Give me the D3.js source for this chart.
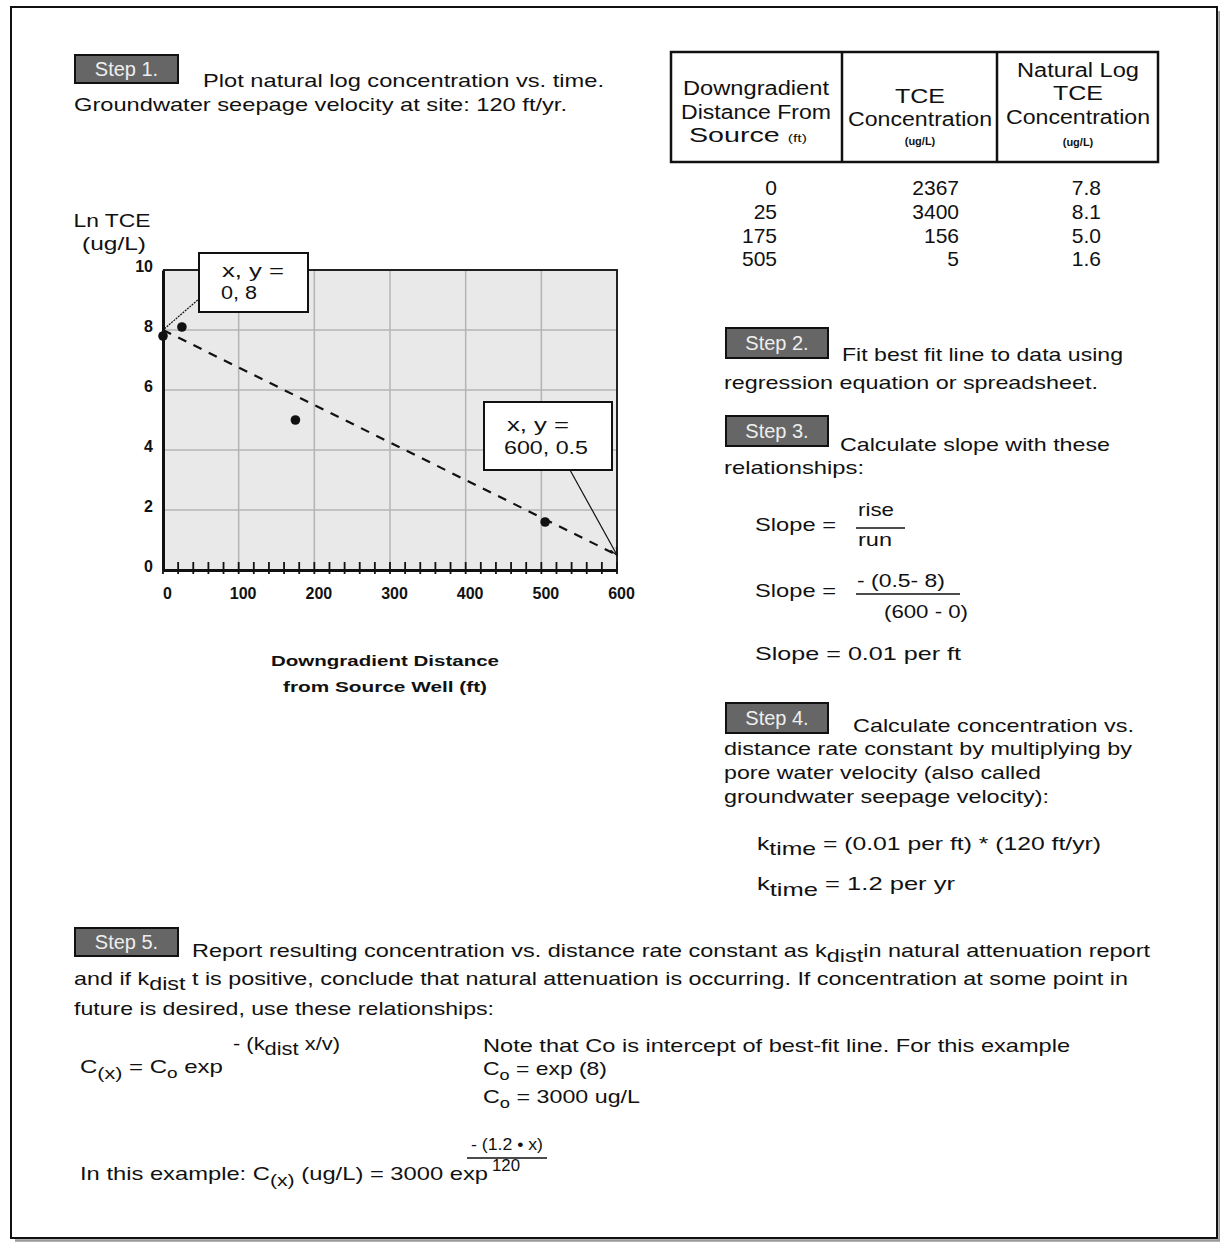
<!DOCTYPE html>
<html>
<head>
<meta charset="utf-8">
<script src="https://cdn.jsdelivr.net/npm/d3@7/dist/d3.min.js"></script>
<style>
  html, body { margin: 0; padding: 0; background: #fff; }
  svg text { font-family: "Liberation Sans", Arial, sans-serif; fill: #111; }
</style>
</head>
<body>
<svg id="page" width="1220" height="1243"></svg>
<script>
// Field data: distance from source, TCE concentration and its natural log
const distances = [0, 25, 175, 505];
const tceConc = [2367, 3400, 156, 5];
const lnConc = [7.8, 8.1, 5.0, 1.6];
// Best-fit line end points read for the slope calculation
const fitX = [0, 600];
const fitY = [8, 0.5];
// Axis ticks
const xTicks = [0, 100, 200, 300, 400, 500, 600];
const xMinorTicks = d3.range(0, 601, 20);
const yTicks = [0, 2, 4, 6, 8, 10];

const svg = d3.select("#page");

// ---------- page frame with drop shadow ----------
svg.append("path").attr("d", "M15,1240.5 H1219.5 V11")
  .attr("fill", "none").attr("stroke", "#999").attr("stroke-width", 2.5);
svg.append("rect").attr("x", 11).attr("y", 7).attr("width", 1206).attr("height", 1231)
  .attr("fill", "none").attr("stroke", "#111").attr("stroke-width", 2);

// ---------- text helper: segments may be subscript / superscript ----------
function rich(x, y, segs, o = {}) {
  const size = o.size || 19;
  const t = svg.append("text").attr("x", x).attr("y", y)
    .attr("font-size", size)
    .attr("text-anchor", o.anchor || "start")
    .attr("font-weight", o.weight || "normal");
  if (o.fill) t.style("fill", o.fill);
  if (typeof segs === "string") segs = [segs];
  let shift = 0;
  segs.forEach(s => {
    if (typeof s === "string") s = { t: s };
    const target = s.sub ? (s.off || 6) : 0;
    const ts = t.append("tspan").text(s.t).attr("dy", target - shift);
    shift = target;
    if (s.sub) ts.attr("font-size", s.size || size * 0.9);
    else if (s.size) ts.attr("font-size", s.size);
  });
  if (o.width) t.attr("textLength", o.width).attr("lengthAdjust", "spacingAndGlyphs");
  return t;
}

function stepBox(x, y, w, h, label) {
  svg.append("rect").attr("x", x).attr("y", y).attr("width", w).attr("height", h)
    .attr("fill", "#666").attr("stroke", "#111").attr("stroke-width", 2);
  rich(x + w / 2, y + h / 2 + 7, label, { size: 20, anchor: "middle", fill: "#eee" });
}

// ---------- Step 1 ----------
stepBox(75, 55, 103, 28, "Step 1.");
rich(203, 87, "Plot  natural log concentration vs. time.", { width: 401 });
rich(74, 111, "Groundwater seepage velocity at site:  120 ft/yr.", { width: 493 });

// ---------- chart ----------
const plot = { left: 163, right: 617, top: 270, bottom: 570 };
const x = d3.scaleLinear().domain([0, 600]).range([plot.left, plot.right]);
const y = d3.scaleLinear().domain([0, 10]).range([plot.bottom, plot.top]);

const g = svg.append("g");
g.append("rect").attr("x", plot.left).attr("y", plot.top)
  .attr("width", plot.right - plot.left).attr("height", plot.bottom - plot.top)
  .attr("fill", "#e9e9e9");

// grid
g.selectAll("line.vgrid").data(xTicks.slice(1, -1)).join("line")
  .attr("x1", d => x(d)).attr("x2", d => x(d))
  .attr("y1", plot.top).attr("y2", plot.bottom)
  .attr("stroke", "#b4b4b4").attr("stroke-width", 1.5);
g.selectAll("line.hgrid").data(yTicks.slice(1, -1)).join("line")
  .attr("x1", plot.left).attr("x2", plot.right)
  .attr("y1", d => y(d)).attr("y2", d => y(d))
  .attr("stroke", "#b4b4b4").attr("stroke-width", 1.5);

// top and right border
g.append("path")
  .attr("d", `M${plot.left},${plot.top} H${plot.right} V${plot.bottom}`)
  .attr("fill", "none").attr("stroke", "#222").attr("stroke-width", 2);

// minor ticks on the x axis
g.selectAll("line.minor").data(xMinorTicks).join("line")
  .attr("x1", d => x(d)).attr("x2", d => x(d))
  .attr("y1", plot.bottom - 8).attr("y2", plot.bottom + 4)
  .attr("stroke", "#111").attr("stroke-width", 1.8);

// x axis
const xAxis = g.append("g").attr("transform", `translate(0,${plot.bottom})`)
  .call(d3.axisBottom(x).tickValues(xTicks).tickSize(0).tickPadding(18));
xAxis.select(".domain").attr("stroke", "#111").attr("stroke-width", 3);
xAxis.selectAll("text").attr("font-size", 16).attr("font-weight", "bold")
  .attr("dx", 4).style("font-family", "Liberation Sans, Arial, sans-serif").style("fill", "#111");

// y axis
const yAxis = g.append("g").attr("transform", `translate(${plot.left},0)`)
  .call(d3.axisLeft(y).tickValues(yTicks).tickSize(0).tickPadding(10));
yAxis.select(".domain").attr("stroke", "#111").attr("stroke-width", 3);
yAxis.selectAll("text").attr("font-size", 16).attr("font-weight", "bold")
  .attr("dy", "0.1em").style("font-family", "Liberation Sans, Arial, sans-serif").style("fill", "#111");

// axis titles
rich(112, 227, "Ln TCE", { size: 19, anchor: "middle", width: 77 });
rich(114, 250, "(ug/L)", { size: 19, anchor: "middle", width: 64 });
rich(385, 666, "Downgradient Distance", { size: 15, anchor: "middle", weight: "bold", width: 228 });
rich(385, 692, "from Source Well (ft)", { size: 15, anchor: "middle", weight: "bold", width: 204 });

// dashed best-fit line
g.append("line")
  .attr("x1", x(fitX[0])).attr("y1", y(fitY[0]))
  .attr("x2", x(fitX[1])).attr("y2", y(fitY[1]))
  .attr("stroke", "#111").attr("stroke-width", 2.2)
  .attr("stroke-dasharray", "9,8");

// data points
g.selectAll("circle.pt").data(distances).join("circle")
  .attr("cx", d => x(d)).attr("cy", (d, i) => y(lnConc[i]))
  .attr("r", 4.8).attr("fill", "#111");

// callouts
svg.append("defs").append("marker").attr("id", "arr")
  .attr("viewBox", "0 0 10 10").attr("refX", 9).attr("refY", 5)
  .attr("markerWidth", 7).attr("markerHeight", 7).attr("orient", "auto")
  .append("path").attr("d", "M0,1 L10,5 L0,9").attr("fill", "none")
  .attr("stroke", "#111").attr("stroke-width", 1.5);

g.append("line").attr("x1", 200).attr("y1", 298)
  .attr("x2", x(fitX[0])).attr("y2", y(fitY[0]))
  .attr("stroke", "#111").attr("stroke-width", 1.2).attr("stroke-dasharray", "2,1");
g.append("line").attr("x1", 570).attr("y1", 470)
  .attr("x2", x(fitX[1])).attr("y2", y(fitY[1]))
  .attr("stroke", "#111").attr("stroke-width", 1.2)
  .attr("marker-end", "url(#arr)");

g.append("rect").attr("x", 199).attr("y", 253).attr("width", 109).attr("height", 59)
  .attr("fill", "#fff").attr("stroke", "#111").attr("stroke-width", 2);
rich(222, 277, "x, y  =", { size: 18, width: 62 });
rich(221, 299, `${fitX[0]}, ${fitY[0]}`, { size: 18, width: 36 });

g.append("rect").attr("x", 484).attr("y", 402).attr("width", 128).attr("height", 68)
  .attr("fill", "#fff").attr("stroke", "#111").attr("stroke-width", 2);
rich(507, 431, "x, y  =", { size: 18, width: 62 });
rich(504, 454, `${fitX[1]}, ${fitY[1]}`, { size: 18, width: 84 });

// ---------- data table ----------
const tb = { x: 671, y: 52, w: 487, h: 110, cols: [671, 842, 997, 1158] };
svg.append("rect").attr("x", tb.x).attr("y", tb.y).attr("width", tb.w).attr("height", tb.h)
  .attr("fill", "#fff").attr("stroke", "#111").attr("stroke-width", 2.5);
[tb.cols[1], tb.cols[2]].forEach(cx => svg.append("line")
  .attr("x1", cx).attr("x2", cx).attr("y1", tb.y).attr("y2", tb.y + tb.h)
  .attr("stroke", "#111").attr("stroke-width", 2.5));

rich(756, 95, "Downgradient", { size: 20, anchor: "middle", width: 146 });
rich(756, 119, "Distance  From", { size: 20, anchor: "middle", width: 150 });
rich(748, 142, ["Source  ", { t: "(ft)", size: 11 }], { size: 20, anchor: "middle", width: 118 });

rich(920, 103, "TCE", { size: 20, anchor: "middle", width: 50 });
rich(920, 126, "Concentration", { size: 20, anchor: "middle", width: 144 });
rich(920, 145, "(ug/L)", { size: 11, anchor: "middle", weight: "bold" });

rich(1078, 77, "Natural Log", { size: 20, anchor: "middle", width: 122 });
rich(1078, 100, "TCE", { size: 20, anchor: "middle", width: 50 });
rich(1078, 124, "Concentration", { size: 20, anchor: "middle", width: 144 });
rich(1078, 146, "(ug/L)", { size: 11, anchor: "middle", weight: "bold" });

const rowY = [195, 219, 243, 266];
distances.forEach((d, i) => {
  rich(777, rowY[i], String(d), { size: 21, anchor: "end" });
  rich(959, rowY[i], String(tceConc[i]), { size: 21, anchor: "end" });
  rich(1101, rowY[i], lnConc[i].toFixed(1), { size: 21, anchor: "end" });
});

// ---------- Step 2 ----------
stepBox(726, 328, 102, 30, "Step 2.");
rich(842, 361, "Fit best fit line to data using", { width: 281 });
rich(724, 389, "regression equation or spreadsheet.", { width: 374 });

// ---------- Step 3 ----------
stepBox(726, 416, 102, 30, "Step 3.");
rich(840, 451, "Calculate slope with these", { width: 270 });
rich(724, 474, "relationships:", { width: 140 });

rich(755, 531, "Slope  =", { width: 81 });
rich(858, 516, "rise", { width: 36 });
svg.append("line").attr("x1", 856).attr("x2", 905).attr("y1", 528).attr("y2", 528)
  .attr("stroke", "#111").attr("stroke-width", 1.5);
rich(858, 546, "run", { width: 34 });

rich(755, 597, "Slope  =", { width: 81 });
rich(857, 587, `- (${fitY[1]}- ${fitY[0]})`, { width: 88 });
svg.append("line").attr("x1", 856).attr("x2", 960).attr("y1", 594).attr("y2", 594)
  .attr("stroke", "#111").attr("stroke-width", 1.5);
rich(884, 618, `(${fitX[1]} - ${fitX[0]})`, { width: 84 });

rich(755, 660, "Slope  =  0.01   per ft", { width: 206 });

// ---------- Step 4 ----------
stepBox(726, 703, 102, 30, "Step 4.");
rich(853, 732, "Calculate concentration vs.", { width: 281 });
rich(724, 755, "distance rate constant by multiplying  by", { width: 408 });
rich(724, 779, "pore  water velocity (also called", { width: 317 });
rich(724, 803, "groundwater seepage velocity):", { width: 325 });

rich(757, 850, ["k", { t: "time", sub: true, off: 5, size: 19 }, " =  (0.01    per ft) * (120 ft/yr)"], { width: 344 });
rich(757, 890, ["k", { t: "time", sub: true, off: 6, size: 19 }, " = 1.2 per yr"], { width: 198 });

// ---------- Step 5 ----------
stepBox(75, 928, 103, 28, "Step 5.");
rich(192, 957, ["Report resulting concentration vs. distance rate constant as k",
  { t: "dist", sub: true, off: 5, size: 19 }, "in natural attenuation report"], { width: 958 });
rich(74, 985, ["and if k", { t: "dist", sub: true, off: 5, size: 19 },
  " t is positive, conclude that natural attenuation is occurring.  If concentration at some point in"], { width: 1054 });
rich(74, 1015, "future is desired, use these relationships:", { width: 420 });

rich(80, 1073, ["C", { t: "(x)", sub: true, off: 6, size: 17 }, " = C", { t: "o", sub: true, off: 5, size: 15 }, " exp"], { width: 143 });
rich(233, 1050, ["- (k", { t: "dist", sub: true, off: 5, size: 19 }, "  x/v)"], { width: 107 });

rich(483, 1052, "Note that Co is intercept of best-fit line.  For this example", { width: 587 });
rich(483, 1075, ["C", { t: "o", sub: true, off: 5, size: 15 }, " = exp (8)"], { width: 124 });
rich(483, 1103, ["C", { t: "o", sub: true, off: 5, size: 15 }, " = 3000 ug/L"], { width: 157 });

rich(80, 1180, ["In this example: C", { t: "(x)", sub: true, off: 6, size: 17 }, "  (ug/L) = 3000 exp"], { width: 408 });
rich(471, 1150, "- (1.2 \u2022 x)", { size: 17, width: 72 });
svg.append("line").attr("x1", 467).attr("x2", 547).attr("y1", 1158).attr("y2", 1158)
  .attr("stroke", "#111").attr("stroke-width", 1.5);
rich(492, 1171, "120", { size: 16, width: 28 });
</script>
</body>
</html>
